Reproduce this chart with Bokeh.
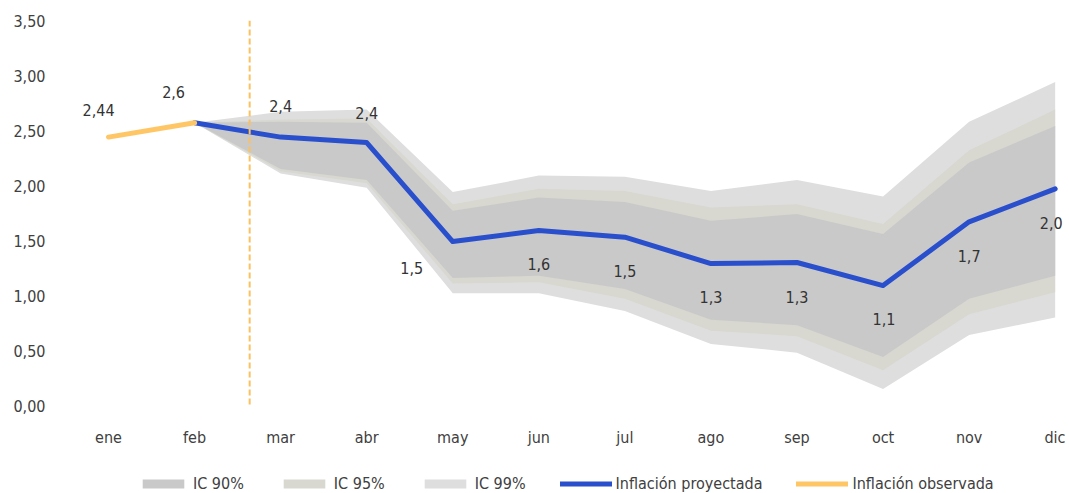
from bokeh.plotting import figure
from bokeh.layouts import column
from bokeh.models import ColumnDataSource, FixedTicker, Legend, LegendItem, Span
from bokeh.core.properties import value
from bokeh.embed import file_html
from bokeh.resources import INLINE

FONT = "DejaVu Sans Condensed"

months = ["ene", "feb", "mar", "abr", "may", "jun", "jul", "ago", "sep", "oct", "nov", "dic"]
y_ticks = [0.0, 0.5, 1.0, 1.5, 2.0, 2.5, 3.0, 3.5]
y_tick_labels = ["0,00", "0,50", "1,00", "1,50", "2,00", "2,50", "3,00", "3,50"]

obs_idx = [0, 1]
observed = [2.44, 2.57]

proj_idx = [1, 2, 3, 4, 5, 6, 7, 8, 9, 10, 11]
projected = [2.57, 2.44, 2.39, 1.49, 1.59, 1.53, 1.29, 1.30, 1.09, 1.67, 1.97]

hi99 = [2.57, 2.67, 2.69, 1.94, 2.09, 2.08, 1.95, 2.05, 1.90, 2.58, 2.94]
hi95 = [2.57, 2.60, 2.61, 1.83, 1.97, 1.95, 1.80, 1.83, 1.65, 2.32, 2.69]
hi90 = [2.57, 2.58, 2.57, 1.77, 1.89, 1.85, 1.68, 1.74, 1.56, 2.21, 2.54]
lo90 = [2.57, 2.15, 2.05, 1.16, 1.18, 1.06, 0.78, 0.73, 0.44, 0.97, 1.18]
lo95 = [2.57, 2.13, 2.02, 1.11, 1.12, 0.97, 0.68, 0.63, 0.32, 0.83, 1.03]
lo99 = [2.57, 2.11, 1.98, 1.02, 1.02, 0.86, 0.56, 0.48, 0.15, 0.64, 0.80]

label_idx = [0, 1, 2, 3, 4, 5, 6, 7, 8, 9, 10, 11]
label_val = [2.44, 2.57, 2.44, 2.39, 1.49, 1.59, 1.53, 1.29, 1.30, 1.09, 1.67, 1.97]
label_txt = ["2,44", "2,6", "2,4", "2,4", "1,5", "1,6", "1,5", "1,3", "1,3", "1,1", "1,7", "2,0"]
label_dx = [-10, -21, 0, 0, -41, 0, 0, 0, 0, 1, 0, -4]
label_dy = [-27, -31, -31, -30, 26, 33, 34, 33, 34, 33, 34, 34]

legend_labels = ["IC 90%", "IC 95%", "IC 99%", "Inflación proyectada", "Inflación observada"]

C90, C95, C99 = "#C9C9C9", "#D8D8D1", "#DEDEDE"
CBLUE, CYEL = "#2A4FCC", "#FFC666"

p = figure(width=1065, height=455, output_backend="svg", toolbar_location=None,
           x_range=(-0.5, 11.12), y_range=(0, 3.5),
           min_border_left=65, min_border_right=0, min_border_top=20, min_border_bottom=50)
p.outline_line_color = None
p.xgrid.visible = False
p.ygrid.visible = False

src = ColumnDataSource(dict(x=proj_idx, hi99=hi99, hi95=hi95, hi90=hi90,
                            lo90=lo90, lo95=lo95, lo99=lo99, proj=projected))
osrc = ColumnDataSource(dict(x=obs_idx, obs=observed))
p.varea(x="x", y1="lo99", y2="hi99", source=src, fill_color=C99)
p.varea(x="x", y1="lo95", y2="hi95", source=src, fill_color=C95)
p.varea(x="x", y1="lo90", y2="hi90", source=src, fill_color=C90)

vline = Span(location=1.64, dimension="height", line_color="#FBC15E", line_width=2, line_dash="6 3")
p.add_layout(vline)

p.line(x="x", y="proj", source=src, line_color=CBLUE, line_width=5, line_cap="round", line_join="round")
p.line(x="x", y="obs", source=osrc, line_color=CYEL, line_width=5, line_cap="round", line_join="round")

lsrc = ColumnDataSource(dict(x=label_idx, y=label_val, t=label_txt, dx=label_dx, dy=label_dy))
p.text(x="x", y="y", text="t", x_offset="dx", y_offset="dy", source=lsrc,
       text_align="center", text_baseline="middle", text_font_size="16px",
       text_font=value(FONT), text_color="#333333")

p.yaxis.ticker = FixedTicker(ticks=y_ticks)
p.yaxis.major_label_overrides = {t: l for t, l in zip(y_ticks, y_tick_labels)}
p.xaxis.ticker = FixedTicker(ticks=list(range(len(months))))
p.xaxis.major_label_overrides = {i: m for i, m in enumerate(months)}
for ax in (p.xaxis, p.yaxis):
    ax.axis_line_color = None
    ax.major_tick_line_color = None
    ax.minor_tick_line_color = None
    ax.major_tick_out = 0
    ax.major_tick_in = 0
    ax.major_label_text_font = FONT
    ax.major_label_text_font_size = "16px"
    ax.major_label_text_color = "#404040"
p.yaxis.major_label_standoff = 20
p.xaxis.major_label_standoff = 22

# legend strip (renderers share the data but lie outside this strip's visible range)
q = figure(width=1065, height=38, output_backend="svg", toolbar_location=None,
           x_range=(-10, -9), y_range=(-10, -9), x_axis_type=None, y_axis_type=None,
           min_border_left=0, min_border_right=0, min_border_top=0, min_border_bottom=0)
q.outline_line_color = None
q.xgrid.visible = False
q.ygrid.visible = False
e90 = q.varea(x="x", y1="lo90", y2="hi90", source=src, fill_color=C90)
e95 = q.varea(x="x", y1="lo95", y2="hi95", source=src, fill_color=C95)
e99 = q.varea(x="x", y1="lo99", y2="hi99", source=src, fill_color=C99)
eb = q.line(x="x", y="proj", source=src, line_color=CBLUE, line_width=5, line_cap="round")
ey = q.line(x="x", y="obs", source=osrc, line_color=CYEL, line_width=5, line_cap="round")

legend = Legend(items=[LegendItem(label=l, renderers=[r]) for l, r in
                       zip(legend_labels, [e90, e95, e99, eb, ey])],
                orientation="horizontal", location=(72, 0))
legend.border_line_color = None
legend.background_fill_alpha = 0
legend.label_text_font = FONT
legend.label_text_font_size = "16px"
legend.label_text_color = "#404040"
legend.glyph_width = 52
legend.glyph_height = 11
legend.label_standoff = 4
legend.spacing = 34
legend.padding = 0
legend.margin = 0
q.add_layout(legend, "center")

open("out.html", "w").write(file_html(column(p, q), INLINE))
